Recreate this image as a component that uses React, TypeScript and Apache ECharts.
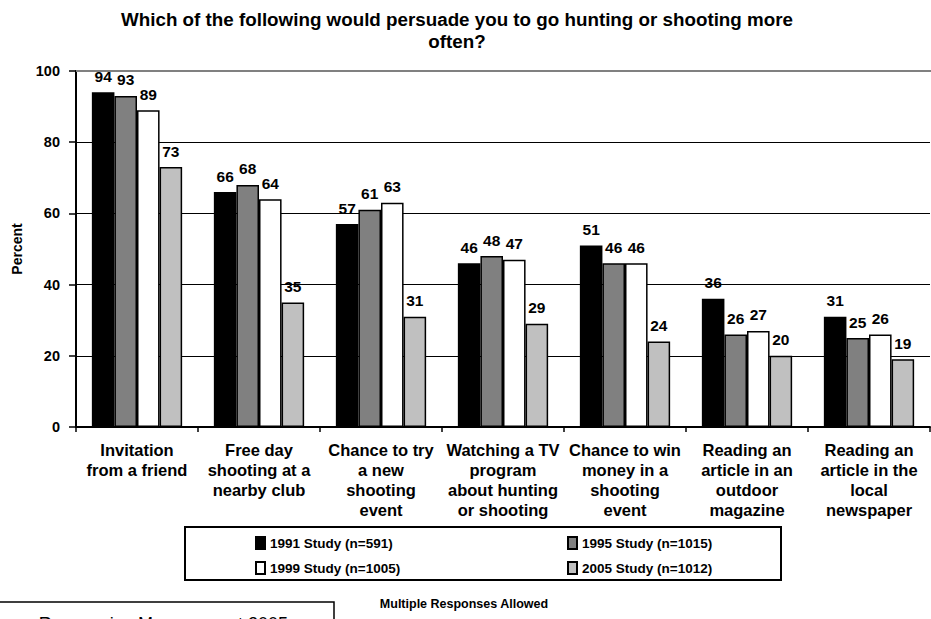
import React, { useEffect, useRef } from "react";
import * as echarts from "echarts";

// Survey responses, percent of respondents per study year
const categories = [
  "Invitation\nfrom a friend",
  "Free day\nshooting at a\nnearby club",
  "Chance to try\na new\nshooting\nevent",
  "Watching a TV\nprogram\nabout hunting\nor shooting",
  "Chance to win\nmoney in a\nshooting\nevent",
  "Reading an\narticle in an\noutdoor\nmagazine",
  "Reading an\narticle in the\nlocal\nnewspaper",
];

const study1991 = [94, 66, 57, 46, 51, 36, 31];
const study1995 = [93, 68, 61, 48, 46, 26, 25];
const study1999 = [89, 64, 63, 47, 46, 27, 26];
const study2005 = [73, 35, 31, 29, 24, 20, 19];

const seriesNames = [
  "1991 Study (n=591)",
  "1995 Study (n=1015)",
  "1999 Study (n=1005)",
  "2005 Study (n=1012)",
];
const seriesData = [study1991, study1995, study1999, study2005];
const seriesColors = ["#000000", "#808080", "#ffffff", "#c0c0c0"];

const yTicks = [0, 20, 40, 60, 80, 100];

const FONT = "'Liberation Sans', Arial, sans-serif";

export default function App() {
  const ref = useRef<HTMLDivElement>(null);

  useEffect(() => {
    if (!ref.current) return;
    const chart = echarts.init(ref.current, null, { renderer: "svg" });

    const legendPos = [
      { left: 250, top: 531 },
      { left: 562, top: 531 },
      { left: 250, top: 556 },
      { left: 562, top: 556 },
    ];

    const option: echarts.EChartsCoreOption = {
      animation: false,
      backgroundColor: "#ffffff",
      textStyle: { fontFamily: FONT },
      title: {
        text: "Which of the following would persuade you to go hunting or shooting more\noften?",
        left: 452,
        top: 3,
        textAlign: "center",
        textStyle: {
          fontFamily: FONT,
          fontSize: 18.8,
          fontWeight: "bold",
          color: "#000",
          lineHeight: 22,
        },
      },
      legend: seriesNames.map((name, i) => ({
        data: [name],
        left: legendPos[i].left,
        top: legendPos[i].top,
        itemWidth: 9,
        itemHeight: 12,
        itemGap: 4,
        icon: "rect",
        selectedMode: false,
        textStyle: {
          fontFamily: FONT,
          fontSize: 13.5,
          fontWeight: "bold",
          color: "#000",
          padding: [0, 0, 0, 0],
        },
      })),
      grid: { left: 76, right: 1, top: 71, bottom: 192, containLabel: false },
      xAxis: {
        type: "category",
        data: categories,
        axisLine: { lineStyle: { color: "#000", width: 2 } },
        axisTick: { show: true, length: 5, lineStyle: { color: "#000", width: 1.5 } },
        axisLabel: {
          interval: 0,
          margin: 13,
          fontFamily: FONT,
          fontSize: 16.5,
          fontWeight: "bold",
          color: "#000",
          lineHeight: 20,
        },
      },
      yAxis: {
        type: "value",
        min: yTicks[0],
        max: yTicks[yTicks.length - 1],
        interval: 20,
        name: "Percent",
        nameLocation: "middle",
        nameRotate: 90,
        nameGap: 52,
        nameTextStyle: {
          fontFamily: FONT,
          fontSize: 14,
          fontWeight: "bold",
          color: "#000",
        },
        axisLine: { show: true, lineStyle: { color: "#000", width: 2 } },
        axisTick: { show: true, length: 7, lineStyle: { color: "#000", width: 1.5 } },
        axisLabel: {
          margin: 16,
          fontFamily: FONT,
          fontSize: 14.5,
          fontWeight: "bold",
          color: "#000",
        },
        splitLine: {
          show: true,
          lineStyle: {
            color: ["#000", "#000", "#000", "#000", "#000", "#808080"],
            width: 1,
          },
        },
      },
      series: seriesNames.map((name, i) => ({
        name,
        type: "bar",
        data: seriesData[i],
        barGap: "0%",
        barCategoryGap: "26%",
        itemStyle: {
          color: seriesColors[i],
          borderColor: "#000",
          borderWidth: 1.5,
        },
        label: {
          show: true,
          position: "top",
          distance: 8,
          fontFamily: FONT,
          fontSize: 15.5,
          fontWeight: "bold",
          color: "#000",
        },
      })),
      graphic: [
        // top border of the plot area, drawn thicker in grey
        {
          type: "line",
          shape: { x1: 76, y1: 71, x2: 931, y2: 71 },
          style: { stroke: "#808080", lineWidth: 2 },
          z: 5,
        },
        // legend frame
        {
          type: "rect",
          shape: { x: 185, y: 527, width: 596, height: 53 },
          style: { fill: "none", stroke: "#000", lineWidth: 2 },
        },
        {
          type: "text",
          x: 464,
          y: 604,
          style: {
            text: "Multiple Responses Allowed",
            fontFamily: FONT,
            fontSize: 12.5,
            fontWeight: "bold",
            fill: "#000",
            align: "center",
            verticalAlign: "middle",
          },
        },
        // source box along the lower edge
        {
          type: "rect",
          shape: { x: -2, y: 602, width: 336, height: 40 },
          style: { fill: "#fff", stroke: "#000", lineWidth: 1.5 },
        },
        {
          type: "text",
          x: 288,
          y: 615,
          style: {
            text: "Responsive Management 2005",
            fontFamily: FONT,
            fontSize: 18,
            fill: "#000",
            align: "right",
            verticalAlign: "top",
          },
        },
      ],
    };

    chart.setOption(option);
    return () => chart.dispose();
  }, []);

  return (
    <div
      ref={ref}
      style={{ position: "fixed", left: 0, top: 0, width: 931, height: 619 }}
    />
  );
}
